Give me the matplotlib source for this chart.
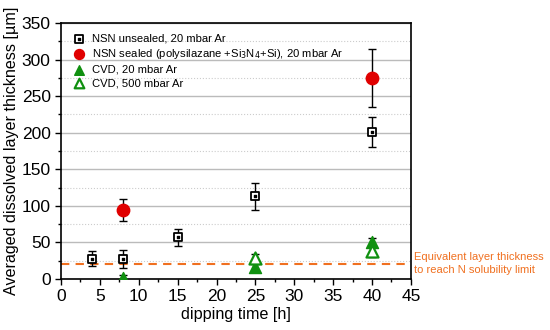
import matplotlib.pyplot as plt
from matplotlib.ticker import MultipleLocator

plt.rcParams['font.family'] = ['Liberation Sans', 'DejaVu Sans']

# NSN unsealed, 20 mbar Ar
t_unsealed = [4, 8, 15, 25, 40]
d_unsealed = [28, 27, 57, 113, 201]
e_unsealed = [10, 12, 12, 18, 20]

# NSN sealed
t_sealed = [8, 40]
d_sealed = [95, 275]
e_sealed = [15, 40]

# CVD, 20 mbar Ar
t_cvd20 = [8, 25, 40]
d_cvd20 = [2, 16, 51]
e_cvd20 = [3, 4, 5]

# CVD, 500 mbar Ar
t_cvd500 = [25, 40]
d_cvd500 = [29, 38]
e_cvd500 = [5, 8]

limit = 21

fig = plt.figure(figsize=(5.5, 3.3), dpi=100)
ax = fig.add_axes([0.111, 0.1545, 0.636, 0.7755])

green = '#109010'
red = '#e00000'
orange = '#f07020'

ax.axhline(limit, color=orange, ls=(0, (4, 3)), lw=1.5, zorder=1)

eb = dict(ecolor='black', elinewidth=1, capsize=3, capthick=1, ls='none', zorder=3)
ax.errorbar(t_unsealed, d_unsealed, yerr=e_unsealed, fmt='none', **eb)
ax.errorbar(t_sealed, d_sealed, yerr=e_sealed, fmt='none', **eb)
ax.errorbar(t_cvd20, d_cvd20, yerr=e_cvd20, fmt='none', **eb)
ax.errorbar(t_cvd500, d_cvd500, yerr=e_cvd500, fmt='none', **eb)

h1 = ax.scatter(t_unsealed, d_unsealed, marker='s', s=40, facecolor='white',
                edgecolor='black', linewidth=1.3, zorder=4)
h1b = ax.scatter(t_unsealed, d_unsealed, marker='s', s=3, color='black', zorder=5)
h2 = ax.scatter(t_sealed, d_sealed, marker='o', s=80, color=red, zorder=4)
h3 = ax.scatter(t_cvd20, d_cvd20, marker='^', s=75, color=green, zorder=4)
h4 = ax.scatter(t_cvd500, d_cvd500, marker='^', s=75, facecolor='white',
                edgecolor=green, linewidth=1.6, zorder=4)

ax.legend([(h1, h1b), h2, h3, h4],
          ['NSN unsealed, 20 mbar Ar',
           'NSN sealed (polysilazane +Si$_3$N$_4$+Si), 20 mbar Ar',
           'CVD, 20 mbar Ar', 'CVD, 500 mbar Ar'],
          loc='upper left', frameon=False, fontsize=8.1, markerscale=0.8,
          handletextpad=0.5, labelspacing=0.3, borderaxespad=0,
          handlelength=1.2, bbox_to_anchor=(0.02, 0.975))

ax.set_xlim(0, 45)
ax.set_ylim(0, 350)
ax.xaxis.set_major_locator(MultipleLocator(5))
ax.xaxis.set_minor_locator(MultipleLocator(2.5))
ax.yaxis.set_major_locator(MultipleLocator(50))
ax.yaxis.set_minor_locator(MultipleLocator(25))
ax.grid(axis='y', which='major', color='#bbbbbb', lw=1, zorder=0)
ax.grid(axis='y', which='minor', color='#cccccc', lw=0.8, ls=':', zorder=0)
ax.set_axisbelow(True)
ax.tick_params(which='both', direction='out', labelsize=12.5, top=False, right=False)
ax.tick_params(which='major', length=4, width=1)
ax.tick_params(which='minor', length=2.5, width=1)
for s in ax.spines.values():
    s.set_linewidth(1.2)

ax.set_xlabel('dipping time [h]', fontsize=11.6, labelpad=2)
ax.set_ylabel('Averaged dissolved layer thickness [µm]', fontsize=11.6, labelpad=2)

ax.text(1.01, limit, 'Equivalent layer thickness\nto reach N solubility limit',
        transform=ax.get_yaxis_transform(), color=orange, fontsize=8,
        va='center', ha='left', linespacing=1.3)

fig.savefig('out.png', dpi=100)
